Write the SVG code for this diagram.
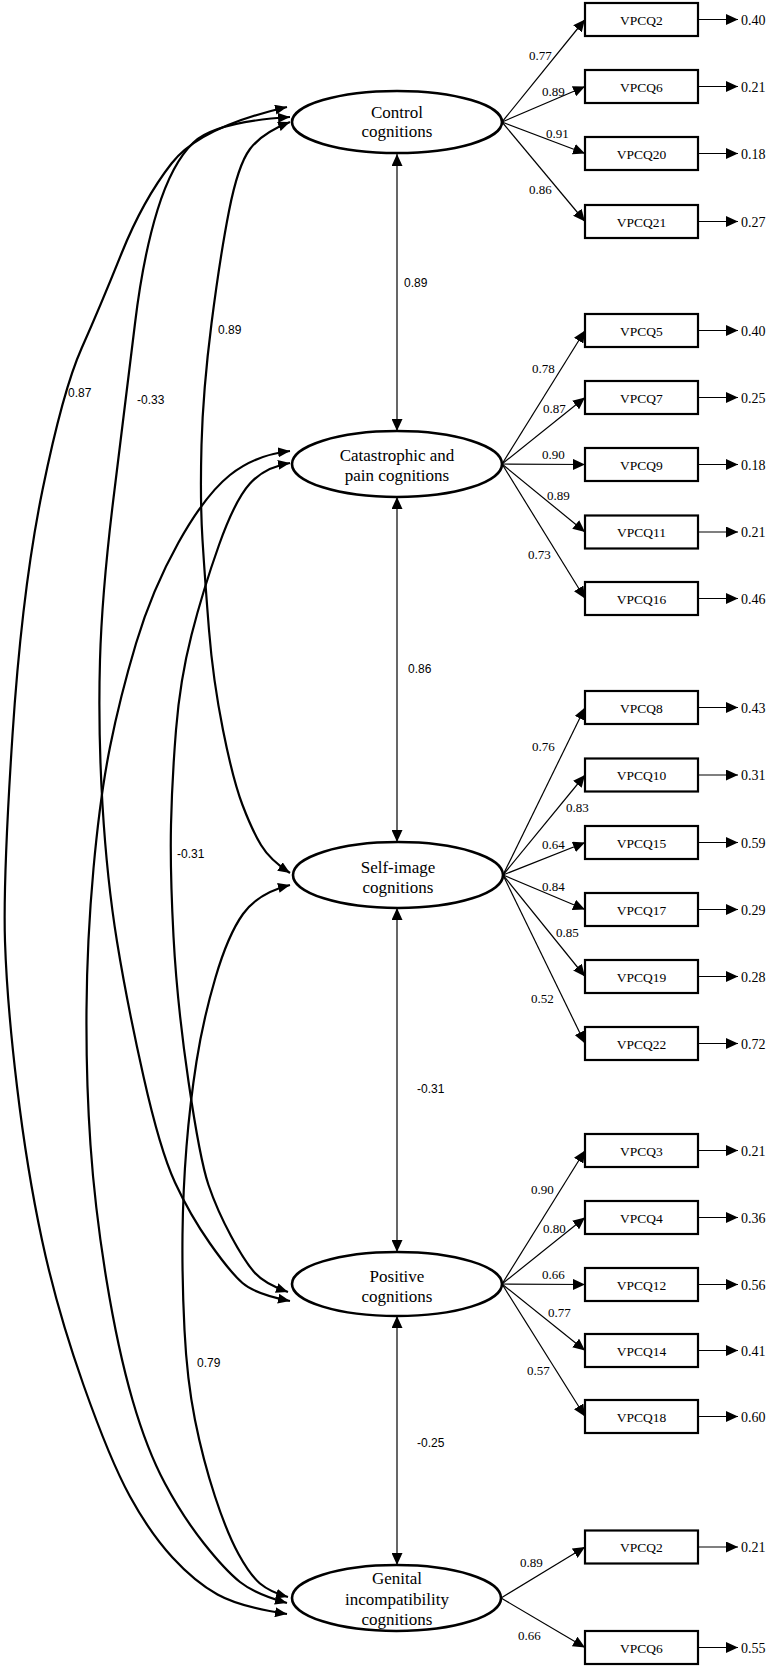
<svg xmlns="http://www.w3.org/2000/svg" width="770" height="1667" viewBox="0 0 770 1667">
<style>
.bg{fill:#fff}
.lat{fill:#fff;stroke:#000;stroke-width:2.6}
.box{fill:#fff;stroke:#000;stroke-width:2.2}
.ln{fill:none;stroke:#000;stroke-width:1.2}
.cv{fill:none;stroke:#000;stroke-width:2.2}
.nt{font-family:"Liberation Serif","Times New Roman",serif;font-size:17px;text-anchor:middle;fill:#000}
.bt{font-family:"Liberation Serif","Times New Roman",serif;font-size:13.5px;text-anchor:middle;fill:#000}
.ld{font-family:"Liberation Serif","Times New Roman",serif;font-size:13px;fill:#000}
.er{font-family:"Liberation Serif","Times New Roman",serif;font-size:14px;fill:#000}
.cr{font-family:"Liberation Sans",Arial,sans-serif;font-size:12px;fill:#000}
</style>
<defs>
<marker id="ah" viewBox="0 0 12 11" refX="12" refY="5.5" markerWidth="12" markerHeight="11" markerUnits="userSpaceOnUse" orient="auto-start-reverse">
<path d="M0,0 L12,5.5 L0,11 Z" fill="#000"/>
</marker>
<marker id="ahc" viewBox="0 0 12 10" refX="12" refY="5" markerWidth="12" markerHeight="10" markerUnits="userSpaceOnUse" orient="auto-start-reverse">
<path d="M0,0 L12,5 L0,10 Z" fill="#000"/>
</marker>
</defs>
<rect class="bg" x="0" y="0" width="770" height="1667"/>

<g id="connectors">
<!-- curved correlations -->
<path class="cv" marker-start="url(#ahc)" marker-end="url(#ahc)" d="M287,107 Q200,127 171.5,163.5 Q143,200 121.5,253.5 Q100,307 81.5,348.5 Q63,390 42.5,490 Q22,590 12.5,735 Q3,880 5,941.5 Q7,1003 17,1086.5 Q27,1170 42,1240 Q57,1310 83.5,1385 Q110,1460 130,1496.5 Q150,1533 172.5,1557.5 Q195,1582 217.5,1594.5 Q240,1607 287,1614"/>
<path class="cv" marker-start="url(#ahc)" marker-end="url(#ahc)" d="M290,117 Q215,122 193.5,142.5 Q172,163 157.5,210 Q143,257 135,323.5 Q127,390 114.5,490 Q102,590 100,660 Q98,730 102.5,805 Q107,880 117,941.5 Q127,1003 143.5,1076.5 Q160,1150 175,1182.5 Q190,1215 210,1243.5 Q230,1272 242.5,1283 Q255,1294 290,1301"/>
<path class="cv" marker-start="url(#ahc)" marker-end="url(#ahc)" d="M290,122 Q262,133 250,149 Q238,165 229,211 Q220,257 211.5,323.5 Q203,390 201.5,445 Q200,500 202.5,540 Q205,580 209,630 Q213,680 223,730 Q233,780 242.5,805 Q252,830 261,845 Q270,860 290,873"/>
<path class="cv" marker-start="url(#ahc)" marker-end="url(#ahc)" d="M290,451 Q255,455 230,475 Q205,495 178.5,542.5 Q152,590 136,643.5 Q120,697 110,747 Q100,797 93.5,868.5 Q87,940 86.5,1010 Q86,1080 90.5,1145 Q95,1210 106.5,1280 Q118,1350 132.5,1400 Q147,1450 165,1483.5 Q183,1517 204,1543.5 Q225,1570 240,1582 Q255,1594 287,1603"/>
<path class="cv" marker-start="url(#ahc)" marker-end="url(#ahc)" d="M290,463 Q265,467 250,483.5 Q235,500 219,545 Q203,590 191.5,635 Q180,680 176,730 Q172,780 171,825 Q170,870 173.5,936.5 Q177,1003 188.5,1081.5 Q200,1160 208.5,1185 Q217,1210 231,1236 Q245,1262 255,1273 Q265,1284 288,1292"/>
<path class="cv" marker-start="url(#ahc)" marker-end="url(#ahc)" d="M290,885 Q258,893 243,914 Q228,935 215.5,977.5 Q203,1020 196.5,1061.5 Q190,1103 186.5,1146.5 Q183,1190 182.5,1235 Q182,1280 184.5,1330 Q187,1380 195,1420 Q203,1460 215,1496.5 Q227,1533 238.5,1554 Q250,1575 260,1583.5 Q270,1592 288,1597"/>
<text class="cr" x="68" y="397">0.87</text>
<text class="cr" x="137" y="404">-0.33</text>
<text class="cr" x="218" y="334">0.89</text>
<text class="cr" x="177" y="858">-0.31</text>
<text class="cr" x="197" y="1367">0.79</text>

<!-- vertical correlations -->
<line class="ln" x1="397" y1="154" x2="397" y2="431" marker-start="url(#ah)" marker-end="url(#ah)"/>
<line class="ln" x1="397" y1="497" x2="397" y2="842" marker-start="url(#ah)" marker-end="url(#ah)"/>
<line class="ln" x1="397" y1="908" x2="397" y2="1252" marker-start="url(#ah)" marker-end="url(#ah)"/>
<line class="ln" x1="397" y1="1316" x2="397" y2="1565" marker-start="url(#ah)" marker-end="url(#ah)"/>
<text class="cr" x="404" y="287">0.89</text>
<text class="cr" x="408" y="673">0.86</text>
<text class="cr" x="417" y="1093">-0.31</text>
<text class="cr" x="417" y="1447">-0.25</text>

<!-- loadings: control -->
<line class="ln" x1="502" y1="122" x2="585" y2="19.5" marker-end="url(#ah)"/>
<line class="ln" x1="502" y1="122" x2="585" y2="86.5" marker-end="url(#ah)"/>
<line class="ln" x1="502" y1="122" x2="585" y2="153.5" marker-end="url(#ah)"/>
<line class="ln" x1="502" y1="122" x2="585" y2="221.5" marker-end="url(#ah)"/>
<text class="ld" x="529" y="59.5">0.77</text>
<text class="ld" x="542" y="95.5">0.89</text>
<text class="ld" x="546" y="137.5">0.91</text>
<text class="ld" x="529" y="193.5">0.86</text>
<!-- loadings: catastrophic -->
<line class="ln" x1="502" y1="464" x2="585" y2="330.5" marker-end="url(#ah)"/>
<line class="ln" x1="502" y1="464" x2="585" y2="397.5" marker-end="url(#ah)"/>
<line class="ln" x1="502" y1="464" x2="585" y2="464.5" marker-end="url(#ah)"/>
<line class="ln" x1="502" y1="464" x2="585" y2="532" marker-end="url(#ah)"/>
<line class="ln" x1="502" y1="464" x2="585" y2="598.5" marker-end="url(#ah)"/>
<text class="ld" x="532" y="372.5">0.78</text>
<text class="ld" x="543" y="412.5">0.87</text>
<text class="ld" x="542" y="458.5">0.90</text>
<text class="ld" x="547" y="499.5">0.89</text>
<text class="ld" x="528" y="558.5">0.73</text>
<!-- loadings: self-image -->
<line class="ln" x1="503" y1="875" x2="585" y2="707.5" marker-end="url(#ah)"/>
<line class="ln" x1="503" y1="875" x2="585" y2="775" marker-end="url(#ah)"/>
<line class="ln" x1="503" y1="875" x2="585" y2="842.5" marker-end="url(#ah)"/>
<line class="ln" x1="503" y1="875" x2="585" y2="909.5" marker-end="url(#ah)"/>
<line class="ln" x1="503" y1="875" x2="585" y2="976.5" marker-end="url(#ah)"/>
<line class="ln" x1="503" y1="875" x2="585" y2="1043.5" marker-end="url(#ah)"/>
<text class="ld" x="532" y="750.5">0.76</text>
<text class="ld" x="566" y="811.5">0.83</text>
<text class="ld" x="542" y="848.5">0.64</text>
<text class="ld" x="542" y="890.5">0.84</text>
<text class="ld" x="556" y="936.5">0.85</text>
<text class="ld" x="531" y="1002.5">0.52</text>
<!-- loadings: positive -->
<line class="ln" x1="502" y1="1284" x2="585" y2="1150.5" marker-end="url(#ah)"/>
<line class="ln" x1="502" y1="1284" x2="585" y2="1217.5" marker-end="url(#ah)"/>
<line class="ln" x1="502" y1="1284" x2="585" y2="1284.5" marker-end="url(#ah)"/>
<line class="ln" x1="502" y1="1284" x2="585" y2="1350.5" marker-end="url(#ah)"/>
<line class="ln" x1="502" y1="1284" x2="585" y2="1416.5" marker-end="url(#ah)"/>
<text class="ld" x="531" y="1193.5">0.90</text>
<text class="ld" x="543" y="1232.5">0.80</text>
<text class="ld" x="542" y="1278.5">0.66</text>
<text class="ld" x="548" y="1316.5">0.77</text>
<text class="ld" x="527" y="1374.5">0.57</text>
<!-- loadings: genital -->
<line class="ln" x1="501" y1="1598" x2="585" y2="1547" marker-end="url(#ah)"/>
<line class="ln" x1="501" y1="1598" x2="585" y2="1647.5" marker-end="url(#ah)"/>
<text class="ld" x="520" y="1566.5">0.89</text>
<text class="ld" x="518" y="1639.5">0.66</text>

<!-- error arrows -->
<g>
<line class="ln" x1="698" y1="19.5" x2="738" y2="19.5" marker-end="url(#ah)"/>
<line class="ln" x1="698" y1="86.5" x2="738" y2="86.5" marker-end="url(#ah)"/>
<line class="ln" x1="698" y1="153.5" x2="738" y2="153.5" marker-end="url(#ah)"/>
<line class="ln" x1="698" y1="221.5" x2="738" y2="221.5" marker-end="url(#ah)"/>
<line class="ln" x1="698" y1="330.5" x2="738" y2="330.5" marker-end="url(#ah)"/>
<line class="ln" x1="698" y1="397.5" x2="738" y2="397.5" marker-end="url(#ah)"/>
<line class="ln" x1="698" y1="464.5" x2="738" y2="464.5" marker-end="url(#ah)"/>
<line class="ln" x1="698" y1="532" x2="738" y2="532" marker-end="url(#ah)"/>
<line class="ln" x1="698" y1="598.5" x2="738" y2="598.5" marker-end="url(#ah)"/>
<line class="ln" x1="698" y1="707.5" x2="738" y2="707.5" marker-end="url(#ah)"/>
<line class="ln" x1="698" y1="775" x2="738" y2="775" marker-end="url(#ah)"/>
<line class="ln" x1="698" y1="842.5" x2="738" y2="842.5" marker-end="url(#ah)"/>
<line class="ln" x1="698" y1="909.5" x2="738" y2="909.5" marker-end="url(#ah)"/>
<line class="ln" x1="698" y1="976.5" x2="738" y2="976.5" marker-end="url(#ah)"/>
<line class="ln" x1="698" y1="1043.5" x2="738" y2="1043.5" marker-end="url(#ah)"/>
<line class="ln" x1="698" y1="1150.5" x2="738" y2="1150.5" marker-end="url(#ah)"/>
<line class="ln" x1="698" y1="1217.5" x2="738" y2="1217.5" marker-end="url(#ah)"/>
<line class="ln" x1="698" y1="1284.5" x2="738" y2="1284.5" marker-end="url(#ah)"/>
<line class="ln" x1="698" y1="1350.5" x2="738" y2="1350.5" marker-end="url(#ah)"/>
<line class="ln" x1="698" y1="1416.5" x2="738" y2="1416.5" marker-end="url(#ah)"/>
<line class="ln" x1="698" y1="1547" x2="738" y2="1547" marker-end="url(#ah)"/>
<line class="ln" x1="698" y1="1647.5" x2="738" y2="1647.5" marker-end="url(#ah)"/>
</g>
<g>
<text class="er" x="741" y="24.5">0.40</text>
<text class="er" x="741" y="91.5">0.21</text>
<text class="er" x="741" y="158.5">0.18</text>
<text class="er" x="741" y="226.5">0.27</text>
<text class="er" x="741" y="335.5">0.40</text>
<text class="er" x="741" y="402.5">0.25</text>
<text class="er" x="741" y="469.5">0.18</text>
<text class="er" x="741" y="537">0.21</text>
<text class="er" x="741" y="603.5">0.46</text>
<text class="er" x="741" y="712.5">0.43</text>
<text class="er" x="741" y="780">0.31</text>
<text class="er" x="741" y="847.5">0.59</text>
<text class="er" x="741" y="914.5">0.29</text>
<text class="er" x="741" y="981.5">0.28</text>
<text class="er" x="741" y="1048.5">0.72</text>
<text class="er" x="741" y="1155.5">0.21</text>
<text class="er" x="741" y="1222.5">0.36</text>
<text class="er" x="741" y="1289.5">0.56</text>
<text class="er" x="741" y="1355.5">0.41</text>
<text class="er" x="741" y="1421.5">0.60</text>
<text class="er" x="741" y="1552">0.21</text>
<text class="er" x="741" y="1652.5">0.55</text>
</g>
</g>

<!-- latent nodes -->
<g id="control">
<ellipse class="lat" cx="397" cy="122" rx="105" ry="31"/>
<text class="nt" x="397" y="118">Control</text>
<text class="nt" x="397" y="137">cognitions</text>
</g>
<g id="catastrophic">
<ellipse class="lat" cx="397" cy="464" rx="105" ry="33"/>
<text class="nt" x="397" y="461">Catastrophic and</text>
<text class="nt" x="397" y="481">pain cognitions</text>
</g>
<g id="selfimage">
<ellipse class="lat" cx="398" cy="875" rx="105" ry="33"/>
<text class="nt" x="398" y="873">Self-image</text>
<text class="nt" x="398" y="893">cognitions</text>
</g>
<g id="positive">
<ellipse class="lat" cx="397" cy="1284" rx="105" ry="32"/>
<text class="nt" x="397" y="1282">Positive</text>
<text class="nt" x="397" y="1302">cognitions</text>
</g>
<g id="genital">
<ellipse class="lat" cx="396.5" cy="1598" rx="104.5" ry="33"/>
<text class="nt" x="397" y="1584">Genital</text>
<text class="nt" x="397" y="1605">incompatibility</text>
<text class="nt" x="397" y="1625">cognitions</text>
</g>

<!-- indicator nodes -->
<g id="c_vpcq2"><rect class="box" x="585" y="3" width="113" height="33"/><text class="bt" x="641.5" y="24.5">VPCQ2</text></g>
<g id="c_vpcq6"><rect class="box" x="585" y="70" width="113" height="33"/><text class="bt" x="641.5" y="91.5">VPCQ6</text></g>
<g id="c_vpcq20"><rect class="box" x="585" y="137" width="113" height="33"/><text class="bt" x="641.5" y="158.5">VPCQ20</text></g>
<g id="c_vpcq21"><rect class="box" x="585" y="205" width="113" height="33"/><text class="bt" x="641.5" y="226.5">VPCQ21</text></g>

<g id="k_vpcq5"><rect class="box" x="585" y="314" width="113" height="33"/><text class="bt" x="641.5" y="335.5">VPCQ5</text></g>
<g id="k_vpcq7"><rect class="box" x="585" y="381" width="113" height="33"/><text class="bt" x="641.5" y="402.5">VPCQ7</text></g>
<g id="k_vpcq9"><rect class="box" x="585" y="448" width="113" height="33"/><text class="bt" x="641.5" y="469.5">VPCQ9</text></g>
<g id="k_vpcq11"><rect class="box" x="585" y="515.5" width="113" height="33"/><text class="bt" x="641.5" y="537">VPCQ11</text></g>
<g id="k_vpcq16"><rect class="box" x="585" y="582" width="113" height="33"/><text class="bt" x="641.5" y="603.5">VPCQ16</text></g>

<g id="s_vpcq8"><rect class="box" x="585" y="691" width="113" height="33"/><text class="bt" x="641.5" y="712.5">VPCQ8</text></g>
<g id="s_vpcq10"><rect class="box" x="585" y="758.5" width="113" height="33"/><text class="bt" x="641.5" y="780">VPCQ10</text></g>
<g id="s_vpcq15"><rect class="box" x="585" y="826" width="113" height="33"/><text class="bt" x="641.5" y="847.5">VPCQ15</text></g>
<g id="s_vpcq17"><rect class="box" x="585" y="893" width="113" height="33"/><text class="bt" x="641.5" y="914.5">VPCQ17</text></g>
<g id="s_vpcq19"><rect class="box" x="585" y="960" width="113" height="33"/><text class="bt" x="641.5" y="981.5">VPCQ19</text></g>
<g id="s_vpcq22"><rect class="box" x="585" y="1027" width="113" height="33"/><text class="bt" x="641.5" y="1048.5">VPCQ22</text></g>

<g id="p_vpcq3"><rect class="box" x="585" y="1134" width="113" height="33"/><text class="bt" x="641.5" y="1155.5">VPCQ3</text></g>
<g id="p_vpcq4"><rect class="box" x="585" y="1201" width="113" height="33"/><text class="bt" x="641.5" y="1222.5">VPCQ4</text></g>
<g id="p_vpcq12"><rect class="box" x="585" y="1268" width="113" height="33"/><text class="bt" x="641.5" y="1289.5">VPCQ12</text></g>
<g id="p_vpcq14"><rect class="box" x="585" y="1334" width="113" height="33"/><text class="bt" x="641.5" y="1355.5">VPCQ14</text></g>
<g id="p_vpcq18"><rect class="box" x="585" y="1400" width="113" height="33"/><text class="bt" x="641.5" y="1421.5">VPCQ18</text></g>

<g id="g_vpcq2"><rect class="box" x="585" y="1530.5" width="113" height="33"/><text class="bt" x="641.5" y="1552">VPCQ2</text></g>
<g id="g_vpcq6"><rect class="box" x="585" y="1631" width="113" height="33"/><text class="bt" x="641.5" y="1652.5">VPCQ6</text></g>
</svg>
